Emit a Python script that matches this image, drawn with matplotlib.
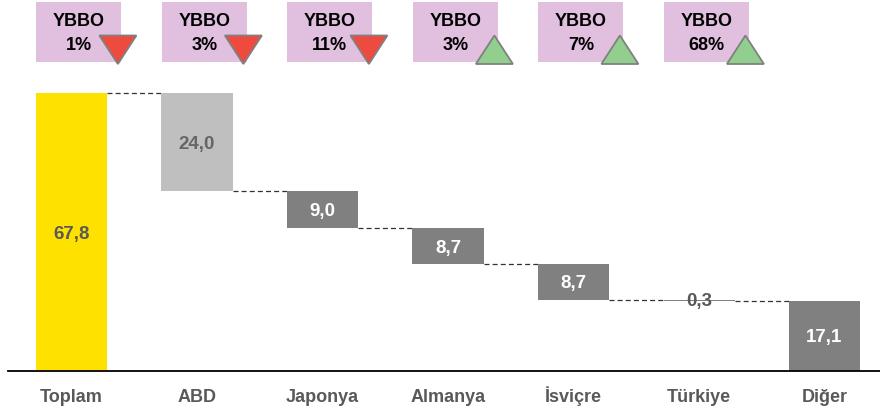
import matplotlib
matplotlib.use("Agg")
import matplotlib.pyplot as plt
from matplotlib.patches import Rectangle, Polygon

plt.rcParams['font.family'] = ['Liberation Sans', 'DejaVu Sans']

categories = ["Toplam", "ABD", "Japonya", "Almanya", "İsviçre", "Türkiye", "Diğer"]
values = [67.8, 24.0, 9.0, 8.7, 8.7, 0.3, 17.1]
value_labels = ["67,8", "24,0", "9,0", "8,7", "8,7", "0,3", "17,1"]
ybbo_labels = ["1%", "3%", "11%", "3%", "7%", "68%"]
ybbo_up = [False, False, False, True, True, True]

bar_colors = ["#FFE100", "#BFBFBF", "#808080", "#808080", "#808080", "#808080", "#808080"]
label_colors = ["#595959", "#666666", "white", "white", "white", "#595959", "white"]

W, H = 880, 411
fig = plt.figure(figsize=(W / 100, H / 100), dpi=100)
ax = fig.add_axes([8 / W, 40 / H, 1 - 8 / W, 1 - 40 / H])

# waterfall positions
bottoms = []
tops = []
running = values[0]
bottoms.append(0)
tops.append(values[0])
for v in values[1:]:
    tops.append(running)
    running -= v
    bottoms.append(running)

xs = list(range(len(categories)))
bw = 0.566
for i, (b, t) in enumerate(zip(bottoms, tops)):
    ax.bar(i, t - b, bottom=b, width=bw, color=bar_colors[i], edgecolor='none', zorder=2)

# connectors
for i in range(len(categories) - 1):
    level = tops[i + 1]
    ax.plot([i + bw / 2, i + 1 - bw / 2], [level, level], ls=(0, (4, 2.5)),
            color='#333333', lw=0.9, zorder=1)

# value labels
for i, (b, t) in enumerate(zip(bottoms, tops)):
    y = (b + t) / 2
    if i == 5:
        y = t
    ax.text(i, y - 0.5, value_labels[i], ha='center', va='center', fontsize=13.5,
            fontweight='bold', color=label_colors[i], zorder=3)

# YBBO boxes
box_h0, box_h1 = (371 - 62) / 4.1, (371 - 2) / 4.1
tri_lo, tri_hi = (371 - 64) / 4.1, (371 - 35.5) / 4.1
for i, (lab, up) in enumerate(zip(ybbo_labels, ybbo_up)):
    left = i - 0.28
    bwid = 0.677
    ax.add_patch(Rectangle((left, box_h0), bwid, box_h1 - box_h0, facecolor='#E0BFDF',
                           edgecolor='none', zorder=2, clip_on=False))
    ax.text(left + bwid / 2, (371 - 21) / 4.1, "YBBO", ha='center', va='center',
            fontsize=13, fontweight='bold', color='black', zorder=3)
    ax.text(left + bwid / 2, (371 - 45) / 4.1, lab, ha='center', va='center',
            fontsize=13, fontweight='bold', color='black', zorder=3)
    tx0, tx1 = left + 0.502, left + 0.797
    if up:
        pts = [(tx0, tri_lo), (tx1, tri_lo), ((tx0 + tx1) / 2, tri_hi)]
        fc = '#92CF8E'
    else:
        pts = [(tx0, tri_hi), (tx1, tri_hi), ((tx0 + tx1) / 2, tri_lo)]
        fc = '#EE4B3E'
    ax.add_patch(Polygon(pts, closed=True, facecolor=fc, edgecolor='#808080',
                         lw=1.3, zorder=4, clip_on=False))

ax.set_xlim(-0.506, 6.442)
ax.set_ylim(0, 371 / 4.1)
ax.set_xticks(xs)
ax.set_xticklabels(categories, fontsize=13, fontweight='bold', color='#595959')
for lbl in ax.get_xticklabels():
    lbl.set_verticalalignment('baseline')
ax.tick_params(axis='x', length=0, pad=22.5)
ax.set_yticks([])
for s in ['top', 'right', 'left']:
    ax.spines[s].set_visible(False)
ax.spines['bottom'].set_color('black')
ax.spines['bottom'].set_linewidth(1.3)

fig.savefig("out.png", dpi=100)
